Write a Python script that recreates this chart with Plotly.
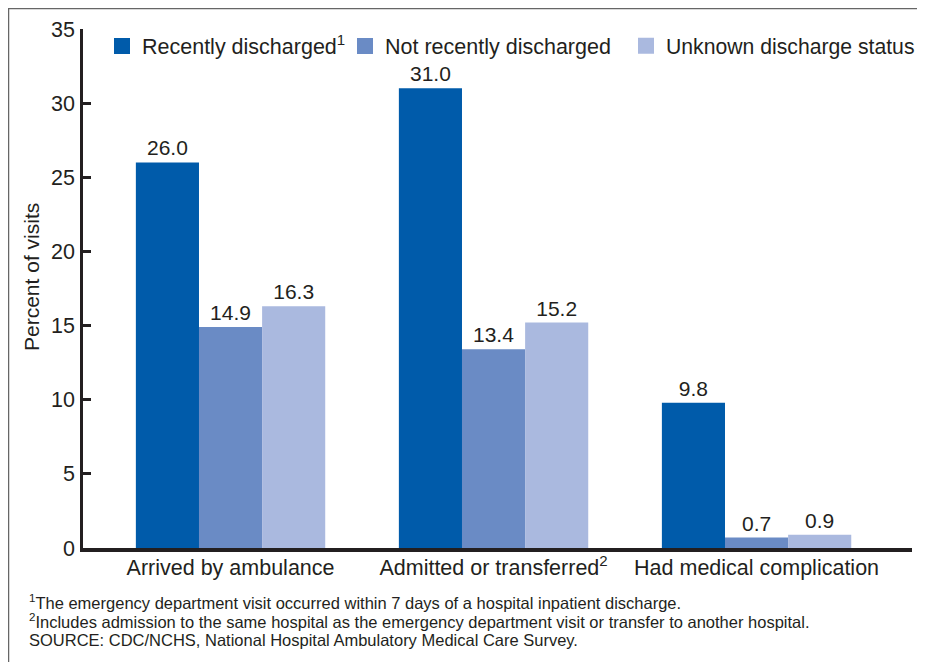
import plotly.graph_objects as go

categories = ["Arrived by ambulance", "Admitted or transferred<sup>2</sup>", "Had medical complication"]
series_names = ["Recently discharged<sup>1</sup>", "Not recently discharged", "Unknown discharge status"]
recently = [26.0, 31.0, 9.8]
not_recently = [14.9, 13.4, 0.7]
unknown = [16.3, 15.2, 0.9]
colors = ["#005BAA", "#6A8BC5", "#AAB9DF"]
y_ticks = [0, 5, 10, 15, 20, 25, 30, 35]

FONT = "Liberation Sans, Arial, Helvetica, sans-serif"
TXT = "#231f20"

# the page body has an 8px margin, so work in screen coords minus 8
L, T, PW, PH = 75, 21, 829, 519
def px(sx):  # screen x -> paper x
    return (sx - 8 - L) / PW
def py(sy):  # screen y -> paper y
    return 1 - (sy - 8 - T) / PH

fig = go.Figure()
legend_ids = ["legend", "legend2", "legend3"]
for name, vals, col, lg in zip(series_names, [recently, not_recently, unknown], colors, legend_ids):
    fig.add_trace(go.Bar(
        x=categories, y=vals, name=name, marker=dict(color=col, line=dict(width=0)),
        text=[f"{v:.1f}" for v in vals], textposition="outside",
        textfont=dict(size=21, color=TXT, family=FONT), cliponaxis=False,
        showlegend=False,
    ))
    # legend-only entry with a larger square swatch
    fig.add_trace(go.Scatter(
        x=[None], y=[None], mode="markers", name=name, legend=lg,
        marker=dict(symbol="square", size=16, color=col), showlegend=True,
    ))

def leg(sx, size):
    return dict(x=px(sx), y=py(46), orientation="h", xanchor="left", yanchor="middle",
                font=dict(size=size, color=TXT, family=FONT), itemsizing="trace",
                bgcolor="rgba(0,0,0,0)", itemwidth=30)

fig.update_layout(
    legend=leg(102, 21.5),
    legend2=leg(345, 21.5),
    legend3=leg(626, 21.2),
)

fig.update_layout(
    width=917, height=654,
    margin=dict(l=L, r=917 - L - PW, t=T, b=654 - T - PH, autoexpand=False),
    paper_bgcolor="white", plot_bgcolor="white",
    barmode="group", bargap=0.28, bargroupgap=0,
    font=dict(family=FONT, color=TXT, size=21),
    xaxis=dict(range=[-0.561, 2.591], showline=True, linecolor="#231f20", linewidth=4,
               ticks="", tickfont=dict(size=21.5, color=TXT), showgrid=False, zeroline=False,
               ticklabelstandoff=-3, automargin=False),
    yaxis=dict(range=[0, 35], tickvals=y_ticks, showline=True, linecolor="#231f20", linewidth=2.5,
               ticks="inside", ticklen=8, tickwidth=2.5, tickcolor="#231f20",
               tickfont=dict(size=21.5, color=TXT), showgrid=False, zeroline=False,
               ticklabelstandoff=1, automargin=False),
)

# y-axis title
fig.add_annotation(text="Percent of visits", xref="paper", yref="paper",
                   x=px(31), y=py(277), textangle=-90, showarrow=False,
                   xanchor="center", yanchor="middle",
                   font=dict(size=21, color=TXT, family=FONT))

# outer frame
fig.add_shape(type="rect", xref="paper", yref="paper",
              x0=px(8.5), x1=px(960), y0=py(700), y1=py(8.5),
              line=dict(color="#666666", width=1.5), fillcolor="rgba(0,0,0,0)", layer="below")

notes = [
    "<sup>1</sup>The emergency department visit occurred within 7 days of a hospital inpatient discharge.",
    "<sup>2</sup>Includes admission to the same hospital as the emergency department visit or transfer to another hospital.",
    "SOURCE: CDC/NCHS, National Hospital Ambulatory Medical Care Survey.",
]
note_y = [602, 621, 640]
for t, yy in zip(notes, note_y):
    fig.add_annotation(text=t, xref="paper", yref="paper",
                       x=px(27), y=py(yy),
                       xanchor="left", yanchor="middle", showarrow=False, align="left",
                       font=dict(size=16.5, color=TXT, family=FONT))

fig.write_html("out.html")
